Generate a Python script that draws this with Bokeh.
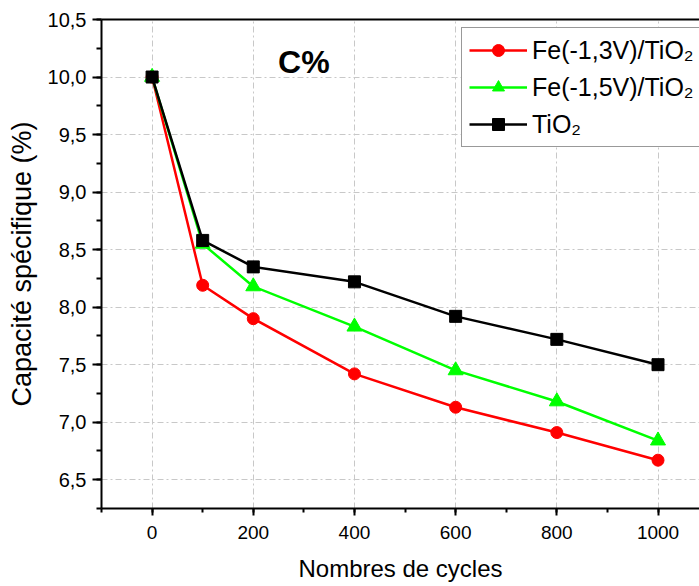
from bokeh.plotting import figure
from bokeh.models import (Range1d, SingleIntervalTicker, FixedTicker, LinearAxis, Legend, LegendItem,
                          CustomJSTickFormatter, Label)
from bokeh.embed import file_html
from bokeh.resources import INLINE

cycles = [0, 100, 200, 400, 600, 800, 1000]
fe13 = [10.0, 8.19, 7.90, 7.42, 7.13, 6.91, 6.67]
fe15 = [10.0, 8.55, 8.18, 7.83, 7.45, 7.18, 6.84]
tio2 = [10.0, 8.58, 8.35, 8.22, 7.92, 7.72, 7.50]
labels = ["Fe(-1,3V)/TiO₂", "Fe(-1,5V)/TiO₂", "TiO₂"]
title_text = "C%"
xlabel = "Nombres de cycles"
ylabel = "Capacité spécifique (%)"

FONT = "Liberation Sans"

p = figure(width=699, height=586, output_backend="svg", toolbar_location=None,
           x_range=Range1d(-100, 1082), y_range=Range1d(6.25, 10.5),
           min_border_left=101, min_border_right=0, min_border_top=19, min_border_bottom=78)
p.outline_line_color = None
p.background_fill_color = "white"
p.border_fill_color = "white"

p.xaxis.ticker = SingleIntervalTicker(interval=200, num_minor_ticks=2)
p.yaxis.ticker = SingleIntervalTicker(interval=0.5, num_minor_ticks=2)
p.yaxis.formatter = CustomJSTickFormatter(code="return tick.toFixed(1).replace('.', ',');")

for ax in [p.xaxis[0], p.yaxis[0]]:
    ax.axis_line_width = 2
    ax.axis_line_color = "black"
    ax.major_tick_line_width = 2
    ax.minor_tick_line_width = 2
    ax.major_tick_line_color = "black"
    ax.minor_tick_line_color = "black"
    ax.major_tick_in = 0
    ax.minor_tick_in = 0
    ax.major_label_text_font = FONT
    ax.major_label_text_font_size = "19px"
    ax.major_label_text_color = "black"
    ax.axis_label_text_font = FONT
    ax.axis_label_text_font_style = "normal"
    ax.axis_label_text_color = "black"

p.yaxis.major_label_text_font_size = "20px"
p.xaxis.major_tick_out = 7
p.xaxis.minor_tick_out = 4
p.yaxis.major_tick_out = 9
p.yaxis.minor_tick_out = 5
p.xaxis.major_label_standoff = 10
p.yaxis.major_label_standoff = 6
p.xaxis.axis_label = xlabel
p.yaxis.axis_label = ylabel
p.xaxis.axis_label_text_font_size = "24px"
p.yaxis.axis_label_text_font_size = "27px"
p.xaxis.axis_label_standoff = 13
p.yaxis.axis_label_standoff = 8

top = LinearAxis(ticker=FixedTicker(ticks=[]), major_tick_line_color=None,
                 minor_tick_line_color=None, axis_line_width=2, axis_line_color="black")
p.add_layout(top, "above")

for g in [p.xgrid[0], p.ygrid[0]]:
    g.grid_line_color = "#c8c8c8"
    g.grid_line_dash = "6 3 2 3"
    g.grid_line_width = 1

r1 = p.line(cycles, fe13, color="#ff0000", line_width=2.5)
m1 = p.scatter(cycles, fe13, marker="circle", size=12, color="#ff0000")
r2 = p.line(cycles, fe15, color="#00ff00", line_width=2.5)
m2 = p.scatter(cycles, fe15, marker="triangle", size=15, color="#00ff00")
r3 = p.line(cycles, tio2, color="black", line_width=2.5)
m3 = p.scatter(cycles, tio2, marker="square", size=12, color="black")

legend = Legend(items=[LegendItem(label=labels[0], renderers=[r1, m1]),
                       LegendItem(label=labels[1], renderers=[r2, m2]),
                       LegendItem(label=labels[2], renderers=[r3, m3])],
                location=(360, 361))
legend.label_text_font = FONT
legend.label_text_font_size = "25px"
legend.label_text_color = "black"
legend.glyph_width = 58
legend.glyph_height = 30
legend.label_height = 30
legend.spacing = 7
legend.padding = 7
legend.margin = 0
legend.label_standoff = 5
legend.border_line_color = "#333333"
legend.border_line_width = 1.5
legend.background_fill_alpha = 1
p.add_layout(legend, "center")

p.add_layout(Label(x=300, y=10.13, text=title_text, text_font=FONT, text_font_size="32px",
                   text_font_style="bold", text_align="center", text_baseline="alphabetic",
                   text_color="black"))

open("out.html", "w").write(file_html(p, INLINE))
